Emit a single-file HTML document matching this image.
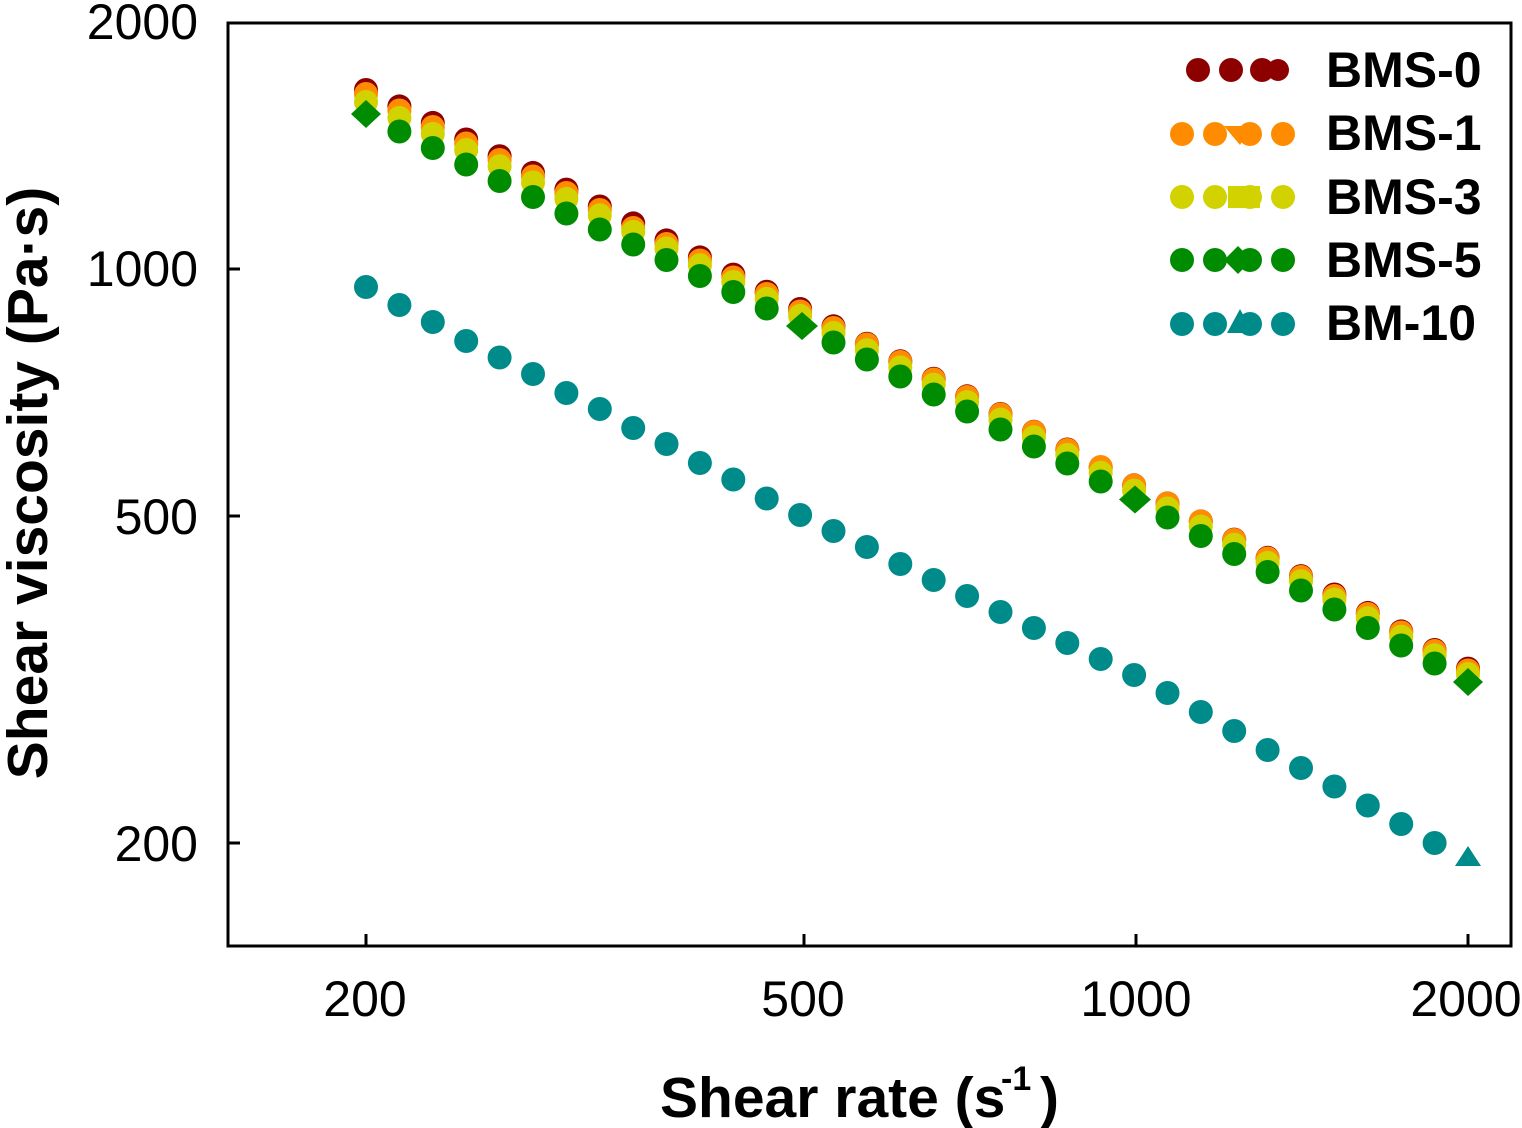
<!DOCTYPE html>
<html>
<head>
<meta charset="utf-8">
<style>
html,body{margin:0;padding:0;background:#fff;}
svg{display:block;}
text{font-family:"Liberation Sans",Arial,sans-serif;fill:#000;}
</style>
</head>
<body>
<svg width="1522" height="1128" viewBox="0 0 1522 1128" xmlns="http://www.w3.org/2000/svg">
<rect x="0" y="0" width="1522" height="1128" fill="#fff"/>

<!-- BMS-0 red -->
<g fill="#8C0000">
<circle cx="366.0" cy="90.0" r="12"/><circle cx="399.4" cy="106.4" r="12"/><circle cx="432.8" cy="122.9" r="12"/><circle cx="466.2" cy="139.5" r="12"/><circle cx="499.6" cy="156.2" r="12"/><circle cx="533.0" cy="172.9" r="12"/><circle cx="566.4" cy="189.6" r="12"/><circle cx="599.8" cy="206.5" r="12"/><circle cx="633.2" cy="223.4" r="12"/><circle cx="666.5" cy="240.4" r="12"/><circle cx="699.9" cy="257.4" r="12"/><circle cx="733.3" cy="274.6" r="12"/><circle cx="766.7" cy="291.7" r="12"/><circle cx="800.1" cy="309.0" r="12"/><circle cx="833.5" cy="326.3" r="12"/><circle cx="866.9" cy="343.7" r="12"/><circle cx="900.3" cy="361.2" r="12"/><circle cx="933.7" cy="378.7" r="12"/><circle cx="967.1" cy="396.3" r="12"/><circle cx="1000.5" cy="414.0" r="12"/><circle cx="1033.9" cy="431.7" r="12"/><circle cx="1067.3" cy="449.5" r="12"/><circle cx="1100.7" cy="467.4" r="12"/><circle cx="1134.1" cy="485.3" r="12"/><circle cx="1167.5" cy="503.4" r="12"/><circle cx="1200.8" cy="521.4" r="12"/><circle cx="1234.2" cy="539.6" r="12"/><circle cx="1267.6" cy="557.8" r="12"/><circle cx="1301.0" cy="576.1" r="12"/><circle cx="1334.4" cy="594.5" r="12"/><circle cx="1367.8" cy="612.9" r="12"/><circle cx="1401.2" cy="631.4" r="12"/><circle cx="1434.6" cy="650.0" r="12"/><circle cx="1468.0" cy="668.6" r="12"/>
</g>

<!-- BMS-1 orange -->
<g fill="#FF8C00">
<circle cx="366.0" cy="94" r="12"/><circle cx="399.4" cy="110.5" r="12"/><circle cx="432.8" cy="127" r="12"/><circle cx="466.2" cy="143.5" r="12"/><circle cx="499.6" cy="160" r="12"/><circle cx="533.0" cy="176.5" r="12"/><circle cx="566.4" cy="193" r="12"/><circle cx="599.8" cy="210" r="12"/><circle cx="633.2" cy="228" r="12"/><circle cx="666.5" cy="244" r="12"/><circle cx="699.9" cy="260.5" r="12"/><circle cx="733.3" cy="277.5" r="12"/><circle cx="766.7" cy="294" r="12"/><circle cx="800.1" cy="311.5" r="12"/><circle cx="833.5" cy="328" r="12"/><circle cx="866.9" cy="344.5" r="12"/><circle cx="900.3" cy="362" r="12"/><circle cx="933.7" cy="379.5" r="12"/><circle cx="967.1" cy="397" r="12"/><circle cx="1000.5" cy="414.5" r="12"/><circle cx="1033.9" cy="432" r="12"/><circle cx="1067.3" cy="450" r="12"/><circle cx="1100.7" cy="467" r="12"/><circle cx="1134.1" cy="485.5" r="12"/><circle cx="1167.5" cy="503.5" r="12"/><circle cx="1200.8" cy="521.5" r="12"/><circle cx="1234.2" cy="540" r="12"/><circle cx="1267.6" cy="558.5" r="12"/><circle cx="1301.0" cy="577" r="12"/><circle cx="1334.4" cy="596" r="12"/><circle cx="1367.8" cy="614" r="12"/><circle cx="1401.2" cy="632.5" r="12"/><circle cx="1434.6" cy="651" r="12"/><circle cx="1468.0" cy="670.5" r="12"/>
</g>

<!-- BMS-3 yellow -->
<g fill="#D2D200">
<circle cx="366.0" cy="102" r="12"/><circle cx="399.4" cy="117.9" r="12"/><circle cx="432.8" cy="133.9" r="12"/><circle cx="466.2" cy="150.0" r="12"/><circle cx="499.6" cy="166.2" r="12"/><circle cx="533.0" cy="182.5" r="12"/><circle cx="566.4" cy="198.9" r="12"/><circle cx="599.8" cy="215.3" r="12"/><circle cx="633.2" cy="231.9" r="12"/><circle cx="666.5" cy="248.5" r="12"/><circle cx="699.9" cy="265.2" r="12"/><circle cx="733.3" cy="282.0" r="12"/><circle cx="766.7" cy="298.9" r="12"/><circle cx="800.1" cy="315.9" r="12"/><circle cx="833.5" cy="333.0" r="12"/><circle cx="866.9" cy="350.1" r="12"/><circle cx="900.3" cy="367.4" r="12"/><circle cx="933.7" cy="384.7" r="12"/><circle cx="967.1" cy="402.1" r="12"/><circle cx="1000.5" cy="419.6" r="12"/><circle cx="1033.9" cy="437.2" r="12"/><circle cx="1067.3" cy="454.9" r="12"/><circle cx="1100.7" cy="472.7" r="12"/><circle cx="1134.1" cy="490.6" r="12"/><circle cx="1167.5" cy="508.5" r="12"/><circle cx="1200.8" cy="526.6" r="12"/><circle cx="1234.2" cy="544.7" r="12"/><circle cx="1267.6" cy="562.9" r="12"/><circle cx="1301.0" cy="581.2" r="12"/><circle cx="1334.4" cy="599.6" r="12"/><circle cx="1367.8" cy="618.1" r="12"/><circle cx="1401.2" cy="636.7" r="12"/><circle cx="1434.6" cy="655.3" r="12"/><circle cx="1468.0" cy="674.1" r="12"/>
</g>

<!-- BMS-5 green -->
<g fill="#008C00">
<polygon points="366,100 381,114 366,128 351,114"/><circle cx="399.4" cy="131.5" r="12"/><circle cx="432.8" cy="148" r="12"/><circle cx="466.2" cy="164.5" r="12"/><circle cx="499.6" cy="181" r="12"/><circle cx="533.0" cy="197" r="12"/><circle cx="566.4" cy="213.5" r="12"/><circle cx="599.8" cy="229.5" r="12"/><circle cx="633.2" cy="244.5" r="12"/><circle cx="666.5" cy="260" r="12"/><circle cx="699.9" cy="276" r="12"/><circle cx="733.3" cy="292" r="12"/><circle cx="766.7" cy="308.5" r="12"/><polygon points="802,312 818,326 802,340 786,326"/><circle cx="833.5" cy="342.5" r="12"/><circle cx="866.9" cy="359.5" r="12"/><circle cx="900.3" cy="376.5" r="12"/><circle cx="933.7" cy="394.5" r="12"/><circle cx="967.1" cy="411.5" r="12"/><circle cx="1000.5" cy="429.5" r="12"/><circle cx="1033.9" cy="446.5" r="12"/><circle cx="1067.3" cy="463.5" r="12"/><circle cx="1100.7" cy="481.5" r="12"/><polygon points="1135,485.5 1151,499.5 1135,513.5 1119,499.5"/><circle cx="1167.5" cy="517.5" r="12"/><circle cx="1200.8" cy="536" r="12"/><circle cx="1234.2" cy="554" r="12"/><circle cx="1267.6" cy="572" r="12"/><circle cx="1301.0" cy="590.5" r="12"/><circle cx="1334.4" cy="609.5" r="12"/><circle cx="1367.8" cy="628" r="12"/><circle cx="1401.2" cy="645.5" r="12"/><circle cx="1434.6" cy="663.5" r="12"/><polygon points="1468,668 1483,682 1468,696 1453,682"/>
</g>

<!-- BM-10 teal -->
<g fill="#008B8B">
<circle cx="366.0" cy="287" r="12"/><circle cx="399.4" cy="305" r="12"/><circle cx="432.8" cy="322" r="12"/><circle cx="466.2" cy="341" r="12"/><circle cx="499.6" cy="357.5" r="12"/><circle cx="533.0" cy="374" r="12"/><circle cx="566.4" cy="393" r="12"/><circle cx="599.8" cy="409" r="12"/><circle cx="633.2" cy="428" r="12"/><circle cx="666.5" cy="444" r="12"/><circle cx="699.9" cy="463" r="12"/><circle cx="733.3" cy="479.5" r="12"/><circle cx="766.7" cy="498.5" r="12"/><circle cx="800.1" cy="515" r="12"/><circle cx="833.5" cy="531" r="12"/><circle cx="866.9" cy="547" r="12"/><circle cx="900.3" cy="564" r="12"/><circle cx="933.7" cy="580" r="12"/><circle cx="967.1" cy="596" r="12"/><circle cx="1000.5" cy="612" r="12"/><circle cx="1033.9" cy="628" r="12"/><circle cx="1067.3" cy="643" r="12"/><circle cx="1100.7" cy="659" r="12"/><circle cx="1134.1" cy="675" r="12"/><circle cx="1167.5" cy="693" r="12"/><circle cx="1200.8" cy="712" r="12"/><circle cx="1234.2" cy="731" r="12"/><circle cx="1267.6" cy="750" r="12"/><circle cx="1301.0" cy="768" r="12"/><circle cx="1334.4" cy="786.5" r="12"/><circle cx="1367.8" cy="805.5" r="12"/><circle cx="1401.2" cy="824" r="12"/><circle cx="1434.6" cy="843" r="12"/><polygon points="1468,846 1481,866 1455,866"/>
</g>

<!-- Frame -->
<rect x="228" y="23" width="1283" height="923" fill="none" stroke="#000" stroke-width="3"/>
<!-- Y ticks -->
<g stroke="#000" stroke-width="3">
<line x1="228" y1="269" x2="240" y2="269"/>
<line x1="228" y1="516" x2="240" y2="516"/>
<line x1="228" y1="843" x2="240" y2="843"/>
<!-- X ticks -->
<line x1="366" y1="946" x2="366" y2="934"/>
<line x1="804" y1="946" x2="804" y2="934"/>
<line x1="1136" y1="946" x2="1136" y2="934"/>
<line x1="1468" y1="946" x2="1468" y2="934"/>
</g>

<!-- Y tick labels -->
<g font-size="50" text-anchor="end">
<text x="198" y="39">2000</text>
<text x="198" y="286">1000</text>
<text x="198" y="534">500</text>
<text x="198" y="861">200</text>
</g>
<!-- X tick labels -->
<g font-size="50" text-anchor="middle">
<text x="365" y="1016">200</text>
<text x="803" y="1016">500</text>
<text x="1136" y="1016">1000</text>
<text x="1466" y="1016">2000</text>
</g>

<!-- Axis titles -->
<text x="660" y="1117" font-size="57" font-weight="bold">Shear rate (s</text>
<text x="1001" y="1090" font-size="34" font-weight="bold">-1</text>
<text x="1040" y="1117" font-size="57" font-weight="bold">)</text>

<text transform="translate(47,483) rotate(-90)" font-size="57" font-weight="bold" text-anchor="middle">Shear viscosity (Pa·s)</text>

<!-- Legend -->
<g fill="#8C0000">
<circle cx="1198" cy="70" r="12"/><circle cx="1231" cy="70" r="12"/><circle cx="1262" cy="70" r="12"/><circle cx="1278" cy="70" r="11"/>
</g>
<g fill="#FF8C00">
<circle cx="1182" cy="134" r="12"/><circle cx="1215" cy="134" r="12"/><circle cx="1250" cy="134" r="12"/><circle cx="1283" cy="134" r="12"/>
<polygon points="1224,126 1252,126 1240,145"/>
</g>
<g fill="#D2D200">
<circle cx="1182" cy="197" r="12"/><circle cx="1215" cy="197" r="12"/><circle cx="1250" cy="197" r="12"/><circle cx="1283" cy="197" r="12"/>
<rect x="1228" y="186" width="32" height="22"/>
</g>
<g fill="#008C00">
<circle cx="1182" cy="260" r="12"/><circle cx="1215" cy="260" r="12"/><circle cx="1250" cy="260" r="12"/><circle cx="1283" cy="260" r="12"/>
<polygon points="1238,246 1252,260 1238,274 1224,260"/>
</g>
<g fill="#008B8B">
<circle cx="1182" cy="324" r="12"/><circle cx="1215" cy="324" r="12"/><circle cx="1250" cy="324" r="12"/><circle cx="1283" cy="324" r="12"/>
<polygon points="1240,309 1253,333 1227,333"/>
</g>
<g font-size="50" font-weight="bold">
<text x="1326" y="87">BMS-0</text>
<text x="1326" y="150">BMS-1</text>
<text x="1326" y="214">BMS-3</text>
<text x="1326" y="277">BMS-5</text>
<text x="1326" y="340">BM-10</text>
</g>
</svg>
</body>
</html>
